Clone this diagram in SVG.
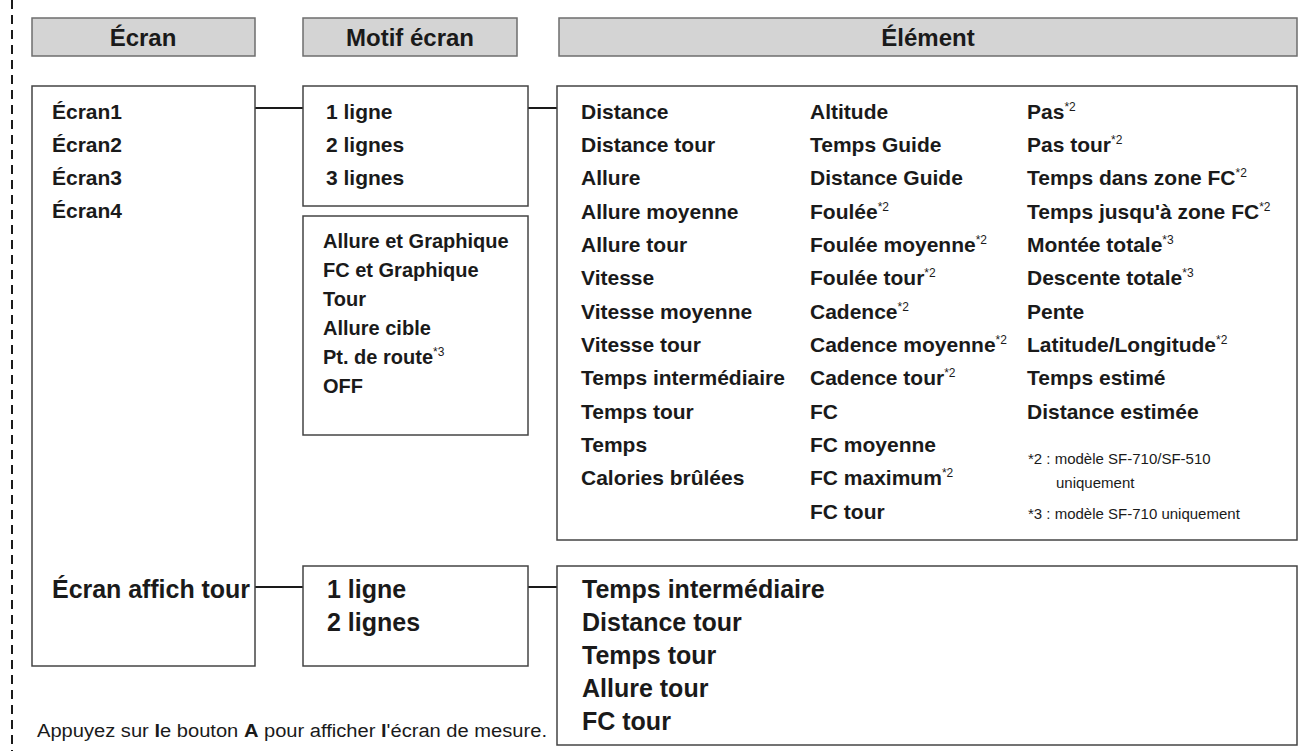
<svg xmlns="http://www.w3.org/2000/svg" width="1307" height="751" viewBox="0 0 1307 751">
<style>
text{font-family:"Liberation Sans",Arial,sans-serif;fill:#1a1a1a}
.hd{fill:#d4d4d4;stroke:#6e6e6e;stroke-width:1.5}
.bx{fill:#fff;stroke:#444;stroke-width:1.5}
.h{font-size:24px;font-weight:bold;text-anchor:middle}
.t{font-size:21px;font-weight:bold}
.s{font-size:20px;font-weight:bold}
.b{font-size:25px;font-weight:bold}
.n{font-size:15px}
.sup{font-size:12px;font-weight:normal}
.ln{stroke:#1a1a1a;stroke-width:2;fill:none}
</style>
<line x1="12" y1="0" x2="12" y2="751" stroke="#1a1a1a" stroke-width="2" stroke-dasharray="9,6"/>
<g id="headers">
<rect class="hd" x="32" y="18" width="223" height="38"/><text class="h" x="143" y="46">Écran</text>
<rect class="hd" x="303" y="18" width="214" height="38"/><text class="h" x="410" y="46">Motif écran</text>
<rect class="hd" x="559" y="18" width="738" height="38"/><text class="h" x="928" y="46">Élément</text>
</g>
<g id="connectors">
<line class="ln" x1="255" y1="108" x2="303" y2="108"/>
<line class="ln" x1="528" y1="108" x2="557" y2="108"/>
<line class="ln" x1="255" y1="587" x2="303" y2="587"/>
<line class="ln" x1="528" y1="587" x2="557" y2="587"/>
</g>
<g id="ecran">
<rect class="bx" x="32" y="86" width="223" height="580"/>
<text class="t" x="52" y="119">Écran1</text>
<text class="t" x="52" y="152">Écran2</text>
<text class="t" x="52" y="185">Écran3</text>
<text class="t" x="52" y="218">Écran4</text>
<text class="b" x="52" y="598" textLength="198">Écran affich tour</text>
</g>
<g id="motif1">
<rect class="bx" x="303" y="86" width="225" height="120"/>
<text class="t" x="326" y="119">1 ligne</text>
<text class="t" x="326" y="152">2 lignes</text>
<text class="t" x="326" y="185">3 lignes</text>
</g>
<g id="motif2">
<rect class="bx" x="303" y="216" width="225" height="219"/>
<text class="s" x="323" y="248">Allure et Graphique</text>
<text class="s" x="323" y="277">FC et Graphique</text>
<text class="s" x="323" y="306">Tour</text>
<text class="s" x="323" y="335">Allure cible</text>
<text class="s" x="323" y="364">Pt. de route<tspan class="sup" dy="-8">*3</tspan></text>
<text class="s" x="323" y="393">OFF</text>
</g>
<g id="motif3">
<rect class="bx" x="303" y="566" width="225" height="100"/>
<text class="b" x="327" y="598">1 ligne</text>
<text class="b" x="327" y="631">2 lignes</text>
</g>
<g id="element">
<rect class="bx" x="557" y="86" width="740" height="454"/>
<text class="t" x="581" y="119">Distance</text>
<text class="t" x="581" y="152">Distance tour</text>
<text class="t" x="581" y="185">Allure</text>
<text class="t" x="581" y="219">Allure moyenne</text>
<text class="t" x="581" y="252">Allure tour</text>
<text class="t" x="581" y="285">Vitesse</text>
<text class="t" x="581" y="319">Vitesse moyenne</text>
<text class="t" x="581" y="352">Vitesse tour</text>
<text class="t" x="581" y="385">Temps intermédiaire</text>
<text class="t" x="581" y="419">Temps tour</text>
<text class="t" x="581" y="452">Temps</text>
<text class="t" x="581" y="485">Calories brûlées</text>
<text class="t" x="810" y="119">Altitude</text>
<text class="t" x="810" y="152">Temps Guide</text>
<text class="t" x="810" y="185">Distance Guide</text>
<text class="t" x="810" y="219">Foulée<tspan class="sup" dy="-8">*2</tspan></text>
<text class="t" x="810" y="252">Foulée moyenne<tspan class="sup" dy="-8">*2</tspan></text>
<text class="t" x="810" y="285">Foulée tour<tspan class="sup" dy="-8">*2</tspan></text>
<text class="t" x="810" y="319">Cadence<tspan class="sup" dy="-8">*2</tspan></text>
<text class="t" x="810" y="352">Cadence moyenne<tspan class="sup" dy="-8">*2</tspan></text>
<text class="t" x="810" y="385">Cadence tour<tspan class="sup" dy="-8">*2</tspan></text>
<text class="t" x="810" y="419">FC</text>
<text class="t" x="810" y="452">FC moyenne</text>
<text class="t" x="810" y="485">FC maximum<tspan class="sup" dy="-8">*2</tspan></text>
<text class="t" x="810" y="519">FC tour</text>
<text class="t" x="1027" y="119">Pas<tspan class="sup" dy="-8">*2</tspan></text>
<text class="t" x="1027" y="152">Pas tour<tspan class="sup" dy="-8">*2</tspan></text>
<text class="t" x="1027" y="185">Temps dans zone FC<tspan class="sup" dy="-8">*2</tspan></text>
<text class="t" x="1027" y="219">Temps jusqu'à zone FC<tspan class="sup" dy="-8">*2</tspan></text>
<text class="t" x="1027" y="252">Montée totale<tspan class="sup" dy="-8">*3</tspan></text>
<text class="t" x="1027" y="285">Descente totale<tspan class="sup" dy="-8">*3</tspan></text>
<text class="t" x="1027" y="319">Pente</text>
<text class="t" x="1027" y="352">Latitude/Longitude<tspan class="sup" dy="-8">*2</tspan></text>
<text class="t" x="1027" y="385">Temps estimé</text>
<text class="t" x="1027" y="419">Distance estimée</text>
<text class="n" x="1028" y="464">*2 : modèle SF-710/SF-510</text>
<text class="n" x="1056" y="488">uniquement</text>
<text class="n" x="1028" y="519">*3 : modèle SF-710 uniquement</text>
</g>
<g id="element-tour">
<rect class="bx" x="557" y="566" width="740" height="179"/>
<text class="b" x="582" y="598">Temps intermédiaire</text>
<text class="b" x="582" y="631">Distance tour</text>
<text class="b" x="582" y="664">Temps tour</text>
<text class="b" x="582" y="697">Allure tour</text>
<text class="b" x="582" y="730">FC tour</text>
</g>
<text x="37" y="737" font-size="18" textLength="510" lengthAdjust="spacingAndGlyphs">Appuyez sur <tspan font-weight="bold">l</tspan>e bouton <tspan font-weight="bold">A</tspan> pour afficher <tspan font-weight="bold">l</tspan>'écran de mesure.</text>
</svg>
